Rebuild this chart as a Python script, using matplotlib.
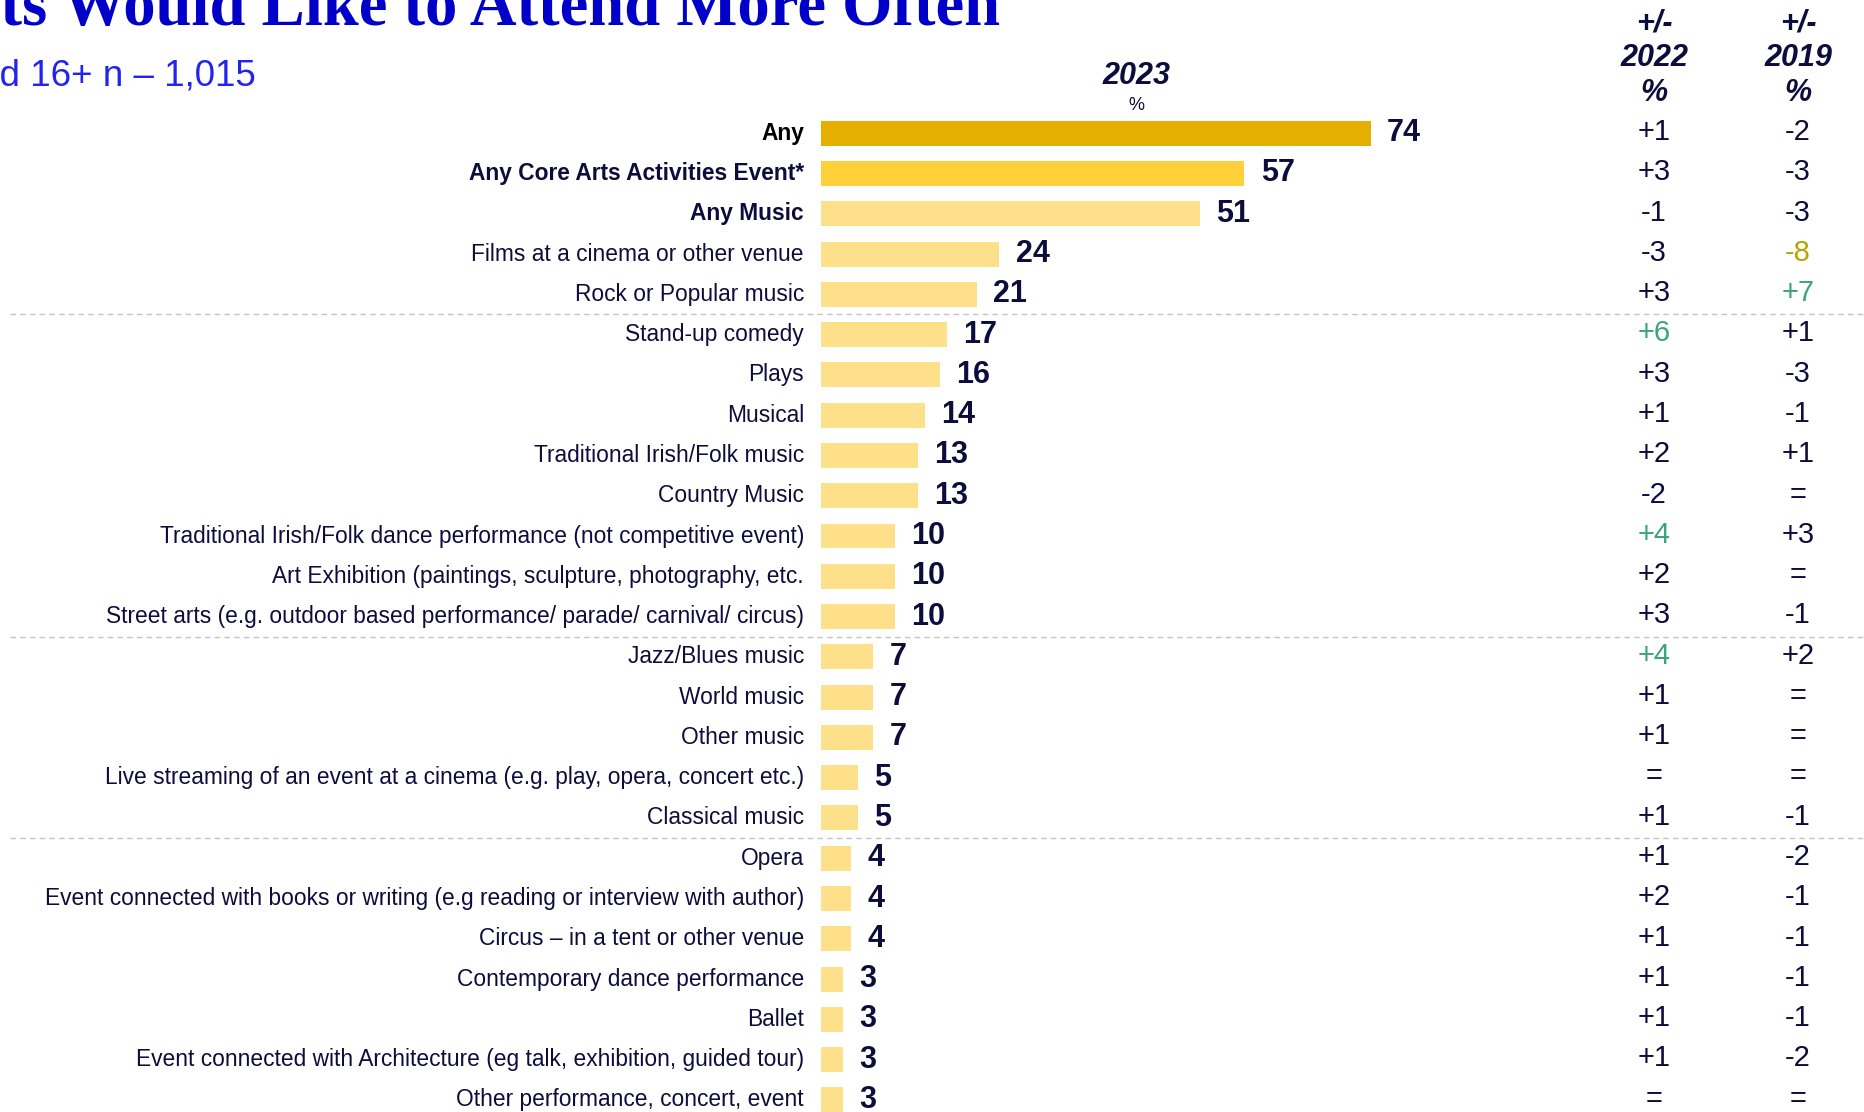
import matplotlib
matplotlib.use("Agg")
import matplotlib.pyplot as plt
from matplotlib import transforms

categories = [
    "Any",
    "Any Core Arts Activities Event*",
    "Any Music",
    "Films at a cinema or other venue",
    "Rock or Popular music",
    "Stand-up comedy",
    "Plays",
    "Musical",
    "Traditional Irish/Folk music",
    "Country Music",
    "Traditional Irish/Folk dance performance (not competitive event)",
    "Art Exhibition (paintings, sculpture, photography, etc.",
    "Street arts (e.g. outdoor based performance/ parade/ carnival/ circus)",
    "Jazz/Blues music",
    "World music",
    "Other music",
    "Live streaming of an event at a cinema (e.g. play, opera, concert etc.)",
    "Classical music",
    "Opera",
    "Event connected with books or writing (e.g reading or interview with author)",
    "Circus \u2013 in a tent or other venue",
    "Contemporary dance performance",
    "Ballet",
    "Event connected with Architecture (eg talk, exhibition, guided tour)",
    "Other performance, concert, event",
]
values_2023 = [74, 57, 51, 24, 21, 17, 16, 14, 13, 13, 10, 10, 10,
               7, 7, 7, 5, 5, 4, 4, 4, 3, 3, 3, 3]
diff_2022 = ["+1", "+3", "-1", "-3", "+3", "+6", "+3", "+1", "+2", "-2", "+4", "+2", "+3",
             "+4", "+1", "+1", "=", "+1", "+1", "+2", "+1", "+1", "+1", "+1", "="]
diff_2019 = ["-2", "-3", "-3", "-8", "+7", "+1", "-3", "-1", "+1", "=", "+3", "=", "-1",
             "+2", "=", "=", "=", "-1", "-2", "-1", "-1", "-1", "-1", "-2", "="]
bold_rows = 3
group_breaks = [4.5, 12.5, 17.5]

NAVY = "#0d0d3d"
GREEN = "#3aa57c"
OLIVE = "#b8a400"
FONT = ["Liberation Sans", "DejaVu Sans"]


def diff_colour(d):
    if d == "=":
        return NAVY
    v = int(d)
    if v >= 4:
        return GREEN
    if v <= -4:
        return OLIVE
    return NAVY


W, H = 1865, 1112
fig = plt.figure(figsize=(W / 100, H / 100), dpi=100)
ax = fig.add_axes([0, 0, 1, 1])
ax.axis("off")

# bar origin at x=821px, 7.43px per percentage point; rows 40.3px apart starting at 133px
x0, px_per_unit = 821, 7.426
row0, row_step = 133.2, 40.28
ax.set_xlim(-x0 / px_per_unit, (W - x0) / px_per_unit)
ax.set_ylim((H - row0) / row_step, -row0 / row_step)

rows = list(range(len(categories)))
bar_colours = ["#e5af00", "#ffd03a"] + ["#ffe08a"] * (len(categories) - 2)
ax.barh(rows, values_2023, height=0.62, color=bar_colours, left=0)

fx = transforms.blended_transform_factory(fig.transFigure, ax.transData)

for i, (cat, v) in enumerate(zip(categories, values_2023)):
    bold = i < bold_rows
    ax.text(804 / W, i, cat, transform=fx, ha="right", va="center",
            fontsize=16.4, family=FONT, fontweight="bold" if bold else "normal",
            color="black" if i == 0 else NAVY)
    ax.text(v + 2.2, i, str(v), ha="left", va="center", fontsize=22,
            family=FONT, fontweight="bold", color=NAVY)
    ax.text(1654 / W, i - 0.03, diff_2022[i], transform=fx, ha="center", va="center",
            fontsize=21, family=FONT, color=diff_colour(diff_2022[i]))
    ax.text(1798 / W, i - 0.03, diff_2019[i], transform=fx, ha="center", va="center",
            fontsize=21, family=FONT, color=diff_colour(diff_2019[i]))

for yb in group_breaks:
    ax.axhline(yb, xmin=10 / W, xmax=1, color="#c4c4c4", lw=1.0, ls=(0, (4, 3)))


def fy(px):
    return 1 - px / H


# column headers
fig.text(1136 / W, fy(76), "2023", ha="center", va="center", fontsize=22,
         family=FONT, fontweight="bold", style="italic", color=NAVY)
fig.text(1136 / W, fy(106), "%", ha="center", va="center", fontsize=13,
         family=FONT, color=NAVY)
for cx, yr in [(1654, "2022"), (1798, "2019")]:
    fig.text(cx / W, fy(23), "+/-", ha="center", va="center", fontsize=22,
             family=FONT, fontweight="bold", style="italic", color=NAVY)
    fig.text(cx / W, fy(58), yr, ha="center", va="center", fontsize=22,
             family=FONT, fontweight="bold", style="italic", color=NAVY)
    fig.text(cx / W, fy(93), "%", ha="center", va="center", fontsize=22,
             family=FONT, fontweight="bold", style="italic", color=NAVY)

# title and base line
fig.text(1000 / W, fy(25), "Arts Events Would Like to Attend More Often",
         ha="right", va="baseline", fontsize=46.5, fontweight="bold",
         family=["Liberation Serif", "DejaVu Serif"], color="#0000c8")
fig.text(256 / W, fy(76), "Base: All adults aged 16+ n \u2013 1,015",
         ha="right", va="center", fontsize=26.5, family=FONT, color="#2323f0")

fig.savefig("out.png", dpi=100)
